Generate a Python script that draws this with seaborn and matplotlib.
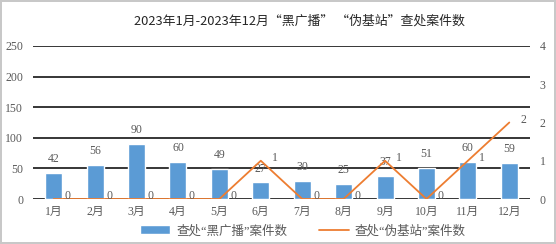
import matplotlib
matplotlib.use("Agg")
import matplotlib.pyplot as plt
import seaborn as sns
import pandas as pd
import numpy as np

months = ["1月", "2月", "3月", "4月", "5月", "6月", "7月", "8月", "9月", "10月", "11月", "12月"]
black_radio = [42, 56, 90, 60, 49, 27, 30, 25, 37, 51, 60, 59]
fake_station = [0, 0, 0, 0, 0, 1, 0, 0, 1, 0, 1, 2]
left_ticks = [0, 50, 100, 150, 200, 250]
right_ticks = [0, 1, 2, 3, 4]
title = "2023年1月-2023年12月\u201c黑广播\u201d \u201c伪基站\u201d查处案件数"
bar_name = "查处\u201c黑广播\u201d案件数"
line_name = "查处\u201c伪基站\u201d案件数"

sns.set_theme(style="white")
plt.rcParams['font.family'] = ['Liberation Serif', 'Noto Sans CJK SC']

df = pd.DataFrame({"month": months, "bars": black_radio, "line": fake_station})
df["x"] = np.arange(len(months))

fig = plt.figure(figsize=(5.56, 2.44), dpi=100)
fig.patch.set_edgecolor("#c8c8c8")
fig.patch.set_linewidth(1.5)
ax = fig.add_axes([33/556, 1-199/244, (530-33)/556, (199-46)/244])

blue = "#5B9BD5"
orange = "#ED7D31"
sns.barplot(data=df, x="month", y="bars", color=blue, width=0.41, ax=ax,
            saturation=1, label=bar_name)
if ax.get_legend() is not None:
    ax.get_legend().remove()
ax.set_ylim(0, 250)
ax.set_yticks(left_ticks)
ax.set_xlim(-0.5, 11.5)
for y in left_ticks:
    ax.axhline(y, color="#000000", lw=1.1, zorder=0)
for s in ax.spines.values():
    s.set_visible(False)
ax.set_xlabel("")
ax.set_ylabel("")
ax.tick_params(axis="y", length=0, pad=7, labelsize=8.5, labelcolor="#595959")
ax.tick_params(axis="x", length=0, pad=5, labelsize=8.5, labelcolor="#595959")
for lab in ax.get_xticklabels():
    lab.set_fontfamily(['Liberation Serif', 'Noto Sans CJK SC'])

for i, v in enumerate(black_radio):
    ax.annotate(str(v), (i, v), xytext=(0, 10), textcoords="offset points",
                ha="center", va="center", fontsize=8.5, color="#595959")

ax2 = ax.twinx()
sns.lineplot(data=df, x="x", y="line", color=orange, lw=1.3, ax=ax2, label=line_name,
             legend=False)
ax2.set_ylim(0, 4)
ax2.set_yticks(right_ticks)
ax2.set_xlim(-0.5, 11.5)
for s in ax2.spines.values():
    s.set_visible(False)
ax2.set_ylabel("")
ax2.set_xlabel("")
ax2.tick_params(axis="y", length=0, pad=7, labelsize=8.5, labelcolor="#595959")
for i, v in enumerate(fake_station):
    ax2.annotate(str(v), (i, v), xytext=(10, 2), textcoords="offset points",
                 ha="center", va="center", fontsize=8.5, color="#595959")

fig.text(299/556, 1-21/244, title, ha="center", va="center", fontsize=9.3,
         color="#262626", family=['Noto Sans CJK SC'])

h1, l1 = ax.get_legend_handles_labels()
h2, l2 = ax2.get_legend_handles_labels()
leg = fig.legend(h1 + h2, l1 + l2, loc="center", bbox_to_anchor=(303/556, 1-231/244),
                 ncol=2, frameon=False, columnspacing=2.5,
                 handlelength=2.4, handleheight=0.7, handletextpad=0.5,
                 prop={"family": ['Liberation Serif', 'Noto Sans CJK SC'], "size": 9})
for t in leg.get_texts():
    t.set_color("#595959")

fig.savefig("out.png", dpi=100)
